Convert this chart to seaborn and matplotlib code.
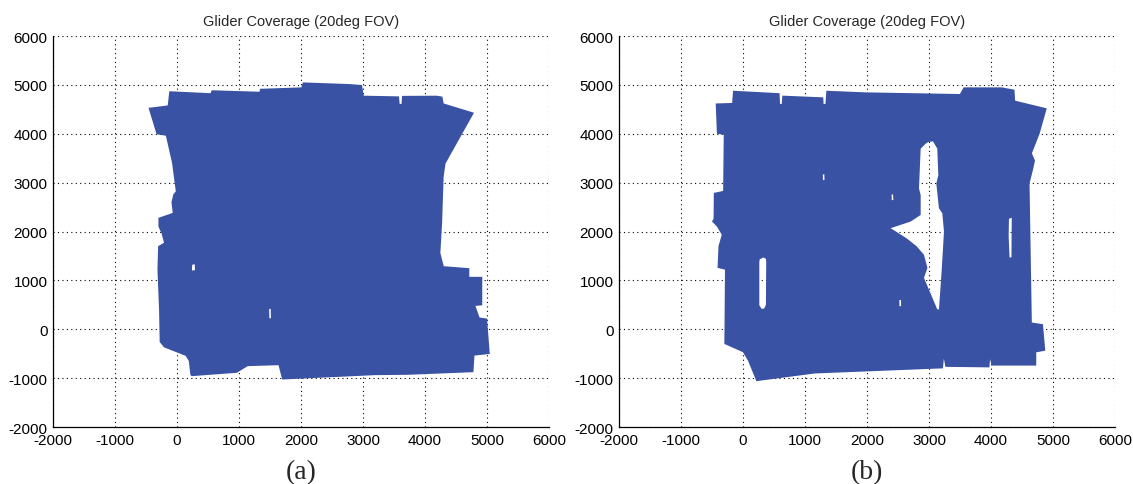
import numpy as np
import matplotlib
matplotlib.use("Agg")
import matplotlib.pyplot as plt
from matplotlib.path import Path
from matplotlib.patches import PathPatch
import seaborn as sns

# ---- coverage footprints (metres) ----
# panel (a): outer boundary
cov_a_x = [-460, -150, -125, 540, 560, 1330, 1340, 2006, 2029, 2778, 2982, 3012,
           3580, 3590, 3620, 3630, 4181, 4280, 4300, 4790, 4330, 4300, 4275, 4247,
           4302, 4714, 4714, 4923, 4923, 4813, 4879, 5000, 5044, 4797, 4780, 3725,
           3187, 1696, 1637, 1140, 965, 234, 215, 190, 140, -210, -280, -290, -316,
           -305, -210, -250, -300, -300, -70, -90, -60, -20, -80, -180, -330]
cov_a_y = [4530, 4580, 4870, 4830, 4890, 4860, 4920, 4949, 5051, 5017, 4997, 4779,
           4765, 4610, 4610, 4775, 4779, 4760, 4620, 4430, 3390, 3119, 2170, 1560,
           1290, 1250, 1073, 1073, 490, 478, 241, 220, -505, -539, -878, -932,
           -939, -1028, -735, -755, -891, -960, -930, -650, -545, -370, -260, 400, 1222,
           1700, 1770, 1960, 2100, 2280, 2380, 2600, 2760, 2820, 3400, 3960, 3990]
# panel (a): uncovered specks
gap_a1_x = [240, 290, 285, 245]
gap_a1_y = [1200, 1210, 1330, 1320]
gap_a2_x = [1490, 1515, 1510, 1485]
gap_a2_y = [220, 230, 420, 410]

# panel (b): outer boundary
cov_b_x = [-440, -175, -160, 590, 598, 625, 635, 1295, 1300, 1330, 1345, 1975,
           3499, 3558, 4174, 4379, 4390, 4900, 4784, 4660, 4710, 4676, 4622, 4659,
           4838, 4876, 4730, 4730, 4010, 3985, 3975, 3265, 3240, 3225, 1155, 217,
           80, 0, -300, -290, -410, -395, -342, -421, -500, -474, -470, -320, -310,
           -420]
cov_b_y = [4620, 4630, 4880, 4830, 4610, 4610, 4780, 4745, 4610, 4610, 4880, 4847,
           4813, 4949, 4949, 4901, 4677, 4520, 4000, 3600, 3450, 3255, 2984, 138,
           104, -438, -472, -743, -743, -610, -780, -769, -600, -800, -905, -1062,
           -640, -470, -300, 1220, 1256, 1700, 1934, 2103, 2205, 2260, 2790, 2830,
           3980, 4000]
# panel (b): uncovered regions
gap_b1_x = [264, 270, 330, 370, 375, 370, 340, 300, 264]
gap_b1_y = [1375, 1430, 1470, 1440, 1375, 500, 420, 420, 490]
gap_b2_x = [2989, 3065, 3134, 3151, 3118, 3161, 3215, 3242, 3204, 3161, 3134, 2919,
            2975, 2919, 2800, 2640, 2382, 2704, 2866, 2866, 2839, 2866, 2946]
gap_b2_y = [3831, 3844, 3695, 3153, 2983, 2475, 2373, 2000, 1186, 407, 407, 1051,
            1254, 1525, 1700, 1860, 2068, 2203, 2339, 2746, 2881, 3695, 3797]
gap_b3_x = [4290, 4335, 4330, 4300, 4285]
gap_b3_y = [2260, 2280, 1470, 1470, 1900]
gap_b4_x = [1290, 1315, 1312, 1288]
gap_b4_y = [3050, 3055, 3170, 3165]
gap_b5_x = [2400, 2425, 2420, 2398]
gap_b5_y = [2640, 2645, 2760, 2755]
gap_b6_x = [2525, 2550, 2548, 2522]
gap_b6_y = [470, 475, 600, 595]

axis_ticks = [-2000, -1000, 0, 1000, 2000, 3000, 4000, 5000, 6000]
panel_title = "Glider Coverage (20deg FOV)"
panel_tags = ["(a)", "(b)"]
fill_color = "#3A52A4"


def ring(xs, ys, ccw=True):
    pts = np.column_stack([xs, ys]).astype(float)
    area = 0.5 * np.sum(pts[:, 0] * np.roll(pts[:, 1], -1) - np.roll(pts[:, 0], -1) * pts[:, 1])
    if (area > 0) != ccw:
        pts = pts[::-1]
    verts = np.vstack([pts, pts[:1]])
    codes = [Path.MOVETO] + [Path.LINETO] * (len(pts) - 1) + [Path.CLOSEPOLY]
    return verts, codes


def coverage_patch(outer, holes):
    verts, codes = ring(*outer, ccw=True)
    verts, codes = [verts], list(codes)
    for h in holes:
        v, c = ring(*h, ccw=False)
        verts.append(v)
        codes += c
    return PathPatch(Path(np.vstack(verts), codes), facecolor=fill_color,
                     edgecolor="none", zorder=2)


sns.set_style("white")
plt.rcParams["font.family"] = ["Liberation Sans", "DejaVu Sans"]

fig = plt.figure(figsize=(11.33, 4.85), dpi=100)
ax_a = fig.add_axes([0.0468, 0.1175, 0.4378, 0.8062])
ax_b = fig.add_axes([0.5463, 0.1175, 0.4378, 0.8062])

panels = [
    (ax_a, (cov_a_x, cov_a_y), [(gap_a1_x, gap_a1_y), (gap_a2_x, gap_a2_y)]),
    (ax_b, (cov_b_x, cov_b_y), [(gap_b1_x, gap_b1_y), (gap_b2_x, gap_b2_y),
                                (gap_b3_x, gap_b3_y), (gap_b4_x, gap_b4_y),
                                (gap_b5_x, gap_b5_y), (gap_b6_x, gap_b6_y)]),
]

for (ax, outer, holes), tag in zip(panels, panel_tags):
    ax.add_patch(coverage_patch(outer, holes))
    ax.set_xlim(-2000, 6000)
    ax.set_ylim(-2000, 6000)
    ax.set_xticks(axis_ticks)
    ax.set_yticks(axis_ticks)
    ax.set_xticklabels([str(t) for t in axis_ticks])
    ax.set_yticklabels([str(t) for t in axis_ticks])
    ax.grid(True, color="black", linestyle=(0, (1, 3)), linewidth=0.8, zorder=1)
    ax.set_axisbelow(True)
    sns.despine(ax=ax, top=True, right=True)
    for s in ("left", "bottom"):
        ax.spines[s].set_color("black")
        ax.spines[s].set_linewidth(0.9)
    ax.tick_params(axis="both", direction="in", length=3, width=0.8,
                   labelsize=11, pad=4, colors="black")
    ax.set_title(panel_title, fontsize=10.5, pad=8)
    ax.text(0.5, -0.115, tag, transform=ax.transAxes, ha="center", va="center",
            fontsize=20, family=["Liberation Serif", "DejaVu Serif"])

fig.savefig("out.png", dpi=100)
